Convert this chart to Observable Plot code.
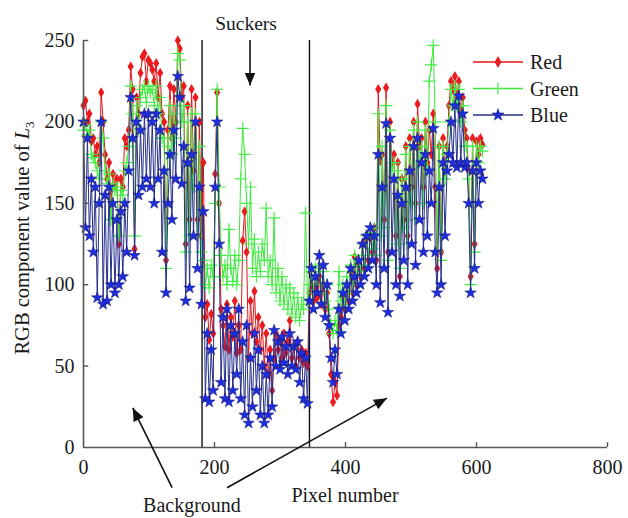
<!DOCTYPE html>
<html>
<head>
<meta charset="utf-8">
<script src="https://cdn.jsdelivr.net/npm/d3@7"></script>
<script src="https://cdn.jsdelivr.net/npm/@observablehq/plot@0.6"></script>
<style>
  html, body { margin: 0; padding: 0; background: #fff; }
  #chart { width: 628px; height: 518px; }
  svg text { font-family: "Liberation Serif", "DejaVu Serif", serif; }
</style>
</head>
<body>
<div id="chart"></div>
<script>
// ---------- data ----------
const pixelStep = 3; // one sample every 3 pixels along the line L3
const seriesNames = ["Red", "Green", "Blue"];
const red = [
  210,213,200,205,188,190,180,185,175,218,
  200,180,165,175,150,168,160,165,125,165,
  160,190,185,195,234,220,122,215,205,230,
  240,242,225,238,236,232,225,236,215,230,
  205,200,115,195,222,190,220,200,250,245,
  215,222,125,210,140,220,170,215,140,200,
  130,175,80,88,66,82,70,168,218,150,
  85,75,62,88,60,80,68,90,58,75,
  60,127,145,120,55,90,70,96,65,80,
  60,75,50,70,45,60,35,55,70,60,
  66,55,70,58,65,78,55,62,50,65,
  55,60,52,58,50,95,100,90,98,92,
  105,88,100,85,95,70,45,28,40,32,
  75,80,92,85,100,90,108,95,117,100,
  112,105,125,110,128,115,130,120,135,115,
  220,176,180,140,221,120,200,175,180,130,
  175,105,165,140,185,130,190,160,200,150,
  211,185,190,160,200,175,195,180,205,160,
  110,185,120,190,170,185,210,225,220,228,
  215,225,205,215,195,190,170,105,190,125,
  188,180,190,186];
const green = [
  195,198,192,195,180,178,175,170,165,200,
  190,170,162,168,140,162,158,160,130,158,
  155,170,175,185,222,205,130,210,195,215,
  220,222,212,222,218,220,210,222,205,215,
  190,190,110,185,210,180,205,190,242,238,
  200,210,120,200,130,205,160,205,130,185,
  120,115,100,110,98,112,105,150,220,160,
  118,105,112,100,134,110,102,118,100,115,
  165,196,180,150,125,160,110,128,105,120,
  108,125,115,147,105,115,100,141,95,110,
  90,105,88,100,85,98,82,95,80,92,
  78,88,85,144,90,100,108,95,110,100,
  112,95,108,90,100,85,75,70,78,72,
  108,90,100,88,105,95,112,100,118,105,
  115,108,125,112,130,118,132,122,135,118,
  205,130,185,135,210,115,195,170,175,125,
  170,110,165,135,180,125,185,150,195,140,
  200,175,185,150,195,170,225,235,247,200,
  120,185,115,185,165,180,200,220,210,222,
  210,220,200,210,185,185,165,100,185,120,
  185,175,185,182];
const blue = [
  200,135,190,130,165,120,160,92,150,200,
  88,155,90,160,100,150,95,140,100,145,
  105,150,120,170,215,190,118,200,155,195,
  160,205,165,205,160,200,150,205,165,195,
  120,170,95,150,180,140,195,165,228,215,
  162,185,90,175,98,180,130,200,110,160,
  88,145,30,70,28,60,35,160,200,125,
  40,80,30,85,28,75,35,70,45,85,
  30,65,20,75,15,55,25,70,35,60,
  20,50,15,45,20,55,25,72,50,65,
  48,68,52,62,45,70,50,62,48,65,
  40,58,30,55,27,90,110,85,105,95,
  118,88,112,80,100,75,55,40,60,45,
  85,70,95,78,100,85,110,90,105,95,
  115,100,125,105,130,110,135,115,130,100,
  180,89,160,110,199,83,190,120,165,100,
  155,93,150,115,160,100,170,125,185,112,
  190,140,175,120,180,130,170,150,196,120,
  95,160,100,175,130,170,180,200,175,210,
  172,216,175,205,172,175,150,95,170,110,
  175,150,170,165];
const suckerBounds = [181, 345];
const xTicks = [0, 200, 400, 600, 800];
const yTicks = [0, 50, 100, 150, 200, 250];
const xDomain = [0, 800];
const yDomain = [0, 250];
// annotation arrows, in data units: [x1, y1, x2, y2]
const suckerArrow = [255, 250, 255, 222];
const backgroundArrows = [[136, -25, 76, 24], [220, -25, 464, 30]];

// ---------- tables ----------
const pixels = red.map((_, i) => i * pixelStep);
const rows = (vals) => vals.map((v, i) => ({pixel: pixels[i], value: v}));
const redRows = rows(red), greenRows = rows(green), blueRows = rows(blue);

const C = {
  redLine: "#e3141b", redDot: "#ea1a1f",
  greenLine: "#3ae83a", greenDot: "#45f045",
  blueLine: "#26308c", blueDot: "#1d2de0", blueEdge: "#1a1a78",
  axis: "#555", ink: "#1a1a1a"
};

const chart = Plot.plot({
  width: 628, height: 518,
  marginLeft: 83, marginRight: 21, marginTop: 40, marginBottom: 71,
  style: {fontFamily: "Liberation Serif", fontSize: "20px", color: C.ink, background: "#fff"},
  x: {domain: xDomain, label: null},
  y: {domain: yDomain, label: null},
  marks: [
    Plot.axisX({ticks: xTicks, tickSize: 0, tickPadding: 12, label: null, fill: C.ink}),
    Plot.axisY({ticks: yTicks, tickSize: 0, tickPadding: 9, label: null, fill: C.ink}),
    Plot.ruleX(suckerBounds, {y1: yDomain[0], y2: yDomain[1], stroke: "#111", strokeWidth: 1.4}),
    Plot.line(redRows, {x: "pixel", y: "value", stroke: C.redLine, strokeWidth: 1}),
    Plot.dot(redRows, {x: "pixel", y: "value", symbol: "diamond", r: 3.2, fill: C.redDot}),
    Plot.line(greenRows, {x: "pixel", y: "value", stroke: C.greenLine, strokeWidth: 1}),
    Plot.dot(greenRows, {x: "pixel", y: "value", symbol: "plus", r: 4, stroke: C.greenDot, strokeWidth: 1.2}),
    Plot.line(blueRows, {x: "pixel", y: "value", stroke: C.blueLine, strokeWidth: 1}),
    Plot.dot(blueRows, {x: "pixel", y: "value", symbol: "star", r: 3.6, fill: C.blueDot, stroke: C.blueEdge, strokeWidth: 0.6}),
    Plot.ruleX([xDomain[0]], {stroke: C.axis, strokeWidth: 1.6}),
    Plot.ruleY([yDomain[0]], {stroke: C.axis, strokeWidth: 1.6}),
    Plot.ruleX(xTicks.slice(1), {y1: 0, y2: 3, stroke: C.axis, strokeWidth: 1.4}),
    Plot.ruleY(yTicks.slice(1), {x1: 0, x2: 8, stroke: C.axis, strokeWidth: 1.4})
  ]
});
document.getElementById("chart").appendChild(chart);

// ---------- annotations, legend, axis titles ----------
const svg = d3.select(chart);
const sx = chart.scale("x"), sy = chart.scale("y");
const X = (v) => sx.apply(v), Y = (v) => sy.apply(v);

const defs = svg.append("defs");
defs.append("marker").attr("id", "ah").attr("viewBox", "0 0 12 10")
  .attr("refX", 12).attr("refY", 5).attr("markerWidth", 13).attr("markerHeight", 11)
  .attr("markerUnits", "userSpaceOnUse").attr("orient", "auto")
  .append("path").attr("d", "M0,0 L12,5 L0,10 Z").attr("fill", "#111");

const ann = svg.append("g");
for (const [x1, y1, x2, y2] of [suckerArrow, ...backgroundArrows]) {
  ann.append("line").attr("x1", X(x1)).attr("y1", Y(y1)).attr("x2", X(x2)).attr("y2", Y(y2))
    .attr("stroke", "#111").attr("stroke-width", 1.6).attr("marker-end", "url(#ah)");
}
ann.append("text").attr("x", X(suckerArrow[0]) - 4).attr("y", 30).attr("text-anchor", "middle")
  .attr("font-size", 19.5).attr("fill", C.ink).text("Suckers");
ann.append("text").attr("x", 192).attr("y", 512).attr("text-anchor", "middle")
  .attr("font-size", 20).attr("fill", C.ink).text("Background");
ann.append("text").attr("x", 345).attr("y", 502).attr("text-anchor", "middle")
  .attr("font-size", 20).attr("fill", C.ink).text("Pixel number");

const yl = svg.append("text").attr("transform", "translate(29,238) rotate(-90)")
  .attr("text-anchor", "middle").attr("font-size", 20.5).attr("fill", C.ink);
yl.append("tspan").text("RGB component value of ");
yl.append("tspan").attr("font-style", "italic").text("L");
yl.append("tspan").attr("font-size", 13).attr("dy", 5).text("3");

// legend
const lg = svg.append("g");
const legendStyles = [
  {line: C.redLine, draw: (g) => g.append("path").attr("d", d3.symbol(d3.symbolDiamond, 40)()).attr("fill", C.redDot)},
  {line: C.greenLine, draw: (g) => g.append("path").attr("d", d3.symbol(d3.symbolPlus, 50)()).attr("fill", "none").attr("stroke", C.greenDot).attr("stroke-width", 1.2)},
  {line: C.blueLine, draw: (g) => g.append("path").attr("d", d3.symbol(d3.symbolStar, 45)()).attr("fill", C.blueDot).attr("stroke", C.blueEdge).attr("stroke-width", 0.6)}
];
seriesNames.forEach((name, i) => {
  const cy = 62 + i * 26.5;
  lg.append("line").attr("x1", 473).attr("x2", 523).attr("y1", cy).attr("y2", cy)
    .attr("stroke", legendStyles[i].line).attr("stroke-width", 1.3);
  legendStyles[i].draw(lg.append("g").attr("transform", `translate(498,${cy})`));
  lg.append("text").attr("x", 530).attr("y", cy).attr("dy", "0.35em").attr("text-anchor", "start")
    .attr("font-size", 20).attr("fill", C.ink).text(name);
});
</script>
</body>
</html>
